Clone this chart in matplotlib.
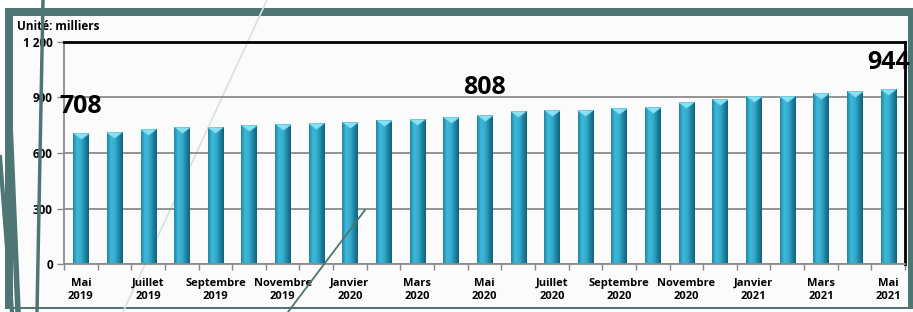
import numpy as np
import matplotlib
matplotlib.use("Agg")
import matplotlib.pyplot as plt
from matplotlib.colors import LinearSegmentedColormap
from matplotlib.lines import Line2D
from matplotlib.patches import Rectangle

plt.rcParams['font.family'] = ['Open Sans', 'DejaVu Sans']

# data (milliers), mai 2019 -> mai 2021
values = [708, 713, 731, 738, 743, 749, 758, 763, 769, 779, 785, 795, 808,
          828, 833, 833, 844, 851, 878, 892, 906, 906, 923, 935, 944]
tick_labels = ["Mai\n2019", "Juillet\n2019", "Septembre\n2019", "Novembre\n2019",
               "Janvier\n2020", "Mars\n2020", "Mai\n2020", "Juillet\n2020",
               "Septembre\n2020", "Novembre\n2020", "Janvier\n2021", "Mars\n2021",
               "Mai\n2021"]
annotated = [0, 12, 24]
yticks = [0, 300, 600, 900, 1200]
ytick_labels = ["0", "300", "600", "900", "1 200"]

teal = "#4e7674"
fig = plt.figure(figsize=(9.13, 3.12), dpi=100)
fig.patch.set_facecolor("white")

# slide frame + decoration
fig.patches.append(Rectangle((5/913, 3/312), 908/913, 301/312, transform=fig.transFigure,
                             facecolor=teal, edgecolor="none", zorder=-3))
fig.patches.append(Rectangle((13/913, 5/312), 895/913, 291/312, transform=fig.transFigure,
                             facecolor="#fbfbfb", edgecolor="none", zorder=-2))
def deco(xs, ys, color, lw, z):
    fig.lines.append(Line2D([x/913 for x in xs], [1 - y/312 for y in ys],
                            transform=fig.transFigure, color=color, lw=lw, zorder=z))
deco([267, 123], [0, 312], "#d5e2e0", 1.2, -1)
deco([365, 288], [210, 312], teal, 1.3, 5)
deco([43, 37], [0, 312], teal, 2.5, 5)
deco([9, 18], [100, 312], teal, 4, 5)
deco([0, 12], [157, 312], teal, 3, 5)

ax = fig.add_axes([64/913, 1 - 264/312, 841/913, 222/312])
ax.set_facecolor("none")
x = np.arange(len(values))
bars = ax.bar(x, values, width=0.45, color="#2a9cbc", zorder=2)

cmap = LinearSegmentedColormap.from_list(
    "cyl", ["#2186a5", "#3cb9d9", "#35aed0", "#1f87a5", "#13617a"])
grad = np.linspace(0, 1, 64).reshape(1, -1)
for b in bars:
    im = ax.imshow(grad, cmap=cmap, aspect="auto", zorder=2.1,
                   extent=[b.get_x(), b.get_x() + b.get_width(), 0, b.get_height()])
    im.set_clip_path(b)

# flat light cap on top of each bar
cap = [(-1, 0), (1, 0), (0, -0.75), (-1, 0)]
ax.plot(x, values, linestyle="none", marker=cap, markersize=11,
        markerfacecolor="#8be0f2", markeredgecolor="#6fd2ea", markeredgewidth=0.5,
        zorder=3)

for i in annotated:
    ax.annotate(str(values[i]), (x[i], values[i]), xytext=(0, 27),
                textcoords="offset pixels", ha="center", va="center",
                fontsize=18, fontweight="bold", color="black", zorder=4)

ax.set_xlim(-0.5, len(values) - 0.5)
ax.set_ylim(0, 1200)
ax.set_yticks(yticks)
ax.set_yticklabels(ytick_labels, fontsize=8.5, fontweight="bold")
ax.set_xticks(x[::2])
ax.set_xticklabels(tick_labels, fontsize=8, fontweight="bold", linespacing=1.25)
ax.set_xticks(np.arange(-0.5, len(values), 1), minor=True)
ax.tick_params(axis="x", which="major", length=0, pad=10)
ax.tick_params(axis="x", which="minor", length=4, color="#888888", width=1)
ax.tick_params(axis="y", length=5, color="#888888", width=1, pad=3)

ax.yaxis.grid(True, color="#8c8c8c", lw=1.3, zorder=1)
ax.set_axisbelow(True)
for s in ["left", "bottom"]:
    ax.spines[s].set_color("#8c8c8c")
    ax.spines[s].set_linewidth(1.3)
for s in ["top", "right"]:
    ax.spines[s].set_color("black")
    ax.spines[s].set_linewidth(2)

fig.text(17/913, 1 - 27/312, "Unité: milliers", fontsize=8.5, fontweight="bold",
         va="center", ha="left")

fig.savefig("out.png", dpi=100)
